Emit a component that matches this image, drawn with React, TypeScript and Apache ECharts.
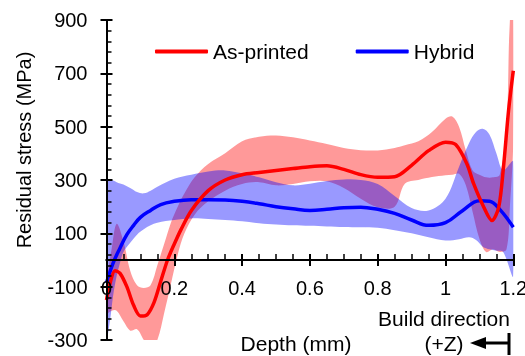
import React, { useEffect, useRef } from "react";
import * as echarts from "echarts";

const xTicks = [0, 0.2, 0.4, 0.6, 0.8, 1, 1.2];
const yTicks = [-300, -100, 100, 300, 500, 700, 900];

const printedX = [0, 0.01, 0.025, 0.04, 0.06, 0.08, 0.1, 0.12, 0.14, 0.16, 0.18, 0.2, 0.22, 0.25, 0.3, 0.35, 0.4, 0.45, 0.5, 0.55, 0.6, 0.65, 0.7, 0.75, 0.8, 0.85, 0.9, 0.95, 1.0, 1.03, 1.063, 1.083, 1.113, 1.137, 1.157, 1.171, 1.186, 1.2];
const printedY = [-150, -90, -40, -50, -100, -170, -210, -205, -160, -80, 0, 60, 115, 185, 260, 300, 320, 328, 336, 343, 350, 353, 340, 320, 310, 312, 355, 410, 442, 433, 361, 286, 198, 148, 198, 348, 560, 710];

const printedBandX = [0, 0.015, 0.03, 0.05, 0.07, 0.09, 0.11, 0.13, 0.15, 0.17, 0.19, 0.21, 0.23, 0.26, 0.3, 0.35, 0.4, 0.45, 0.5, 0.55, 0.6, 0.65, 0.7, 0.75, 0.8, 0.85, 0.88, 0.92, 0.96, 1.0, 1.02, 1.04, 1.06, 1.08, 1.1, 1.12, 1.14, 1.16, 1.18, 1.19, 1.2];
const printedUpper = [-90, 40, 136, 70, -40, -95, -105, -95, -20, 60, 140, 200, 250, 310, 360, 400, 445, 462, 467, 460, 448, 435, 420, 412, 411, 420, 430, 445, 480, 530, 538, 500, 411, 336, 320, 310, 310, 320, 500, 900, 950];
const printedLower = [-200, -190, -190, -230, -265, -260, -300, -330, -300, -200, -90, 20, 100, 170, 220, 260, 285, 292, 280, 285, 295, 295, 270, 230, 198, 200, 286, 300, 311, 318, 320, 323, 280, 180, 80, 30, 40, 30, 40, 200, 450];

const hybridX = [0, 0.02, 0.04, 0.06, 0.08, 0.1, 0.13, 0.16, 0.2, 0.25, 0.3, 0.35, 0.4, 0.45, 0.5, 0.55, 0.6, 0.65, 0.7, 0.75, 0.8, 0.85, 0.9, 0.95, 1.0, 1.05, 1.1, 1.13, 1.16, 1.2];
const hybridY = [-85, -10, 45, 95, 130, 160, 186, 208, 220, 226, 226, 225, 220, 211, 200, 192, 186, 190, 196, 198, 190, 175, 150, 130, 140, 185, 222, 220, 190, 123];

const hybridBandX = [0, 0.01, 0.02, 0.03, 0.04, 0.05, 0.07, 0.09, 0.11, 0.13, 0.15, 0.2, 0.25, 0.3, 0.35, 0.4, 0.45, 0.5, 0.55, 0.6, 0.65, 0.7, 0.75, 0.8, 0.85, 0.9, 0.95, 1.0, 1.04, 1.07, 1.09, 1.11, 1.13, 1.15, 1.17, 1.2];
const hybridUpper = [300, 300, 298, 292, 287, 283, 270, 255, 250, 260, 275, 305, 320, 332, 336, 325, 310, 292, 280, 286, 296, 302, 300, 285, 240, 195, 186, 230, 350, 440, 480, 492, 470, 400, 336, 370];
const hybridLower = [-300, -230, -130, -60, -10, 30, 65, 95, 115, 130, 140, 150, 156, 154, 150, 145, 138, 133, 130, 128, 126, 124, 123, 121, 112, 100, 85, 73, 78, 85, 75, 50, 40, 35, 30, -60];

const FONT = "'Liberation Sans', Arial, Helvetica, sans-serif";

const Y_MIN = -300;
const Y_MAX = 900;
const GRID_TOP = 20;
const GRID_BOTTOM = 16;
const CHART_H = 356;
// distance from grid bottom to value 0 (x-axis crosses at y = 0)
const PLOT_H = CHART_H - GRID_TOP - GRID_BOTTOM;
const ZERO_OFFSET = -((0 - Y_MIN) / (Y_MAX - Y_MIN)) * PLOT_H;

function pairs(xs: number[], ys: number[]) {
  return xs.map((x, i) => [x, ys[i]]);
}

function bandSeries(name: string, xs: number[], lo: number[], hi: number[], color: string) {
  return {
    name,
    type: "custom",
    silent: true,
    z: 1,
    data: xs.map((x, i) => [x, lo[i], hi[i]]),
    encode: { x: 0, y: [1, 2] },
    renderItem: (params: any, api: any) => {
      if (params.dataIndex !== 0) return null;
      const upperPts = xs.map((x, i) => api.coord([x, hi[i]]));
      const lowerPts = xs.map((x, i) => api.coord([x, lo[i]])).reverse();
      const cs = params.coordSys;
      return {
        type: "group",
        clipPath: { type: "rect", shape: { x: cs.x, y: cs.y, width: cs.width, height: cs.height } },
        children: [
          {
            type: "polygon",
            shape: { points: upperPts.concat(lowerPts), smooth: 0.35 },
            style: { fill: color, stroke: "none" },
          },
        ],
      };
    },
  };
}

export default function App() {
  const ref = useRef<HTMLDivElement>(null);
  useEffect(() => {
    if (!ref.current) return;
    const chart = echarts.init(ref.current, null, { renderer: "svg" });
    const axisLabel = { fontFamily: FONT, fontSize: 20, color: "#000" };
    chart.setOption({
      animation: false,
      textStyle: { fontFamily: FONT },
      grid: { left: 106.5, right: 11.7, top: GRID_TOP, bottom: GRID_BOTTOM, containLabel: false, outerBoundsMode: "none" },
      legend: {
        data: ["As-printed", "Hybrid"],
        left: 150,
        top: 36,
        icon: "roundRect",
        itemWidth: 53,
        itemHeight: 4,
        itemGap: 47,
        textStyle: { fontFamily: FONT, fontSize: 21, color: "#000" },
      },
      xAxis: [
        {
          type: "value",
          position: "bottom",
          offset: ZERO_OFFSET,
          min: 0,
          max: 1.2,
          interval: 0.2,
          z: 10,
          axisLine: { onZero: false, lineStyle: { color: "#000", width: 2 } },
          axisTick: { show: true, inside: true, length: 6, lineStyle: { color: "#000", width: 2 } },
          minorTick: { show: true, splitNumber: 4, length: 6, lineStyle: { color: "#000", width: 1.5 } },
          axisLabel: {
            ...axisLabel,
            margin: 18,
            formatter: (v: number) => {
              const t = xTicks.find((x) => Math.abs(x - v) < 1e-6);
              return t === undefined ? "" : String(t);
            },
          },
          splitLine: { show: false },
        },
        {
          type: "value",
          position: "bottom",
          offset: ZERO_OFFSET,
          min: 0,
          max: 1.2,
          interval: 0.2,
          z: 10,
          axisLine: { onZero: false, lineStyle: { color: "#000", width: 2 } },
          axisTick: { show: true, inside: false, length: 6, lineStyle: { color: "#000", width: 2 } },
          axisLabel: { show: false },
          splitLine: { show: false },
        },
      ],
      yAxis: [
        {
          type: "value",
          position: "left",
          min: Y_MIN,
          max: Y_MAX,
          interval: 200,
          z: 10,
          axisLine: { show: true, onZero: false, lineStyle: { color: "#000", width: 2 } },
          axisTick: { show: true, inside: true, length: 6, lineStyle: { color: "#000", width: 2 } },
          minorTick: { show: true, splitNumber: 5, length: 5, lineStyle: { color: "#000", width: 1.5 } },
          axisLabel: {
            ...axisLabel,
            margin: 19,
            formatter: (v: number) => (yTicks.includes(v) ? String(v) : ""),
          },
          splitLine: { show: false },
        },
        {
          type: "value",
          position: "left",
          min: Y_MIN,
          max: Y_MAX,
          interval: 200,
          z: 10,
          axisLine: { show: true, onZero: false, lineStyle: { color: "#000", width: 2 } },
          axisTick: { show: true, inside: false, length: 6, lineStyle: { color: "#000", width: 2 } },
          axisLabel: { show: false },
          splitLine: { show: false },
        },
      ],
      series: [
        bandSeries("printedBand", printedBandX, printedLower, printedUpper, "rgba(255,0,0,0.4)"),
        bandSeries("hybridBand", hybridBandX, hybridLower, hybridUpper, "rgba(0,0,255,0.4)"),
        {
          name: "Hybrid",
          type: "line",
          data: pairs(hybridX, hybridY),
          smooth: 0.4,
          symbol: "none",
          color: "#0000ff",
          lineStyle: { width: 3.5, color: "#0000ff" },
          z: 3,
        },
        {
          name: "As-printed",
          type: "line",
          data: pairs(printedX, printedY),
          smooth: 0.3,
          symbol: "none",
          color: "#ff0000",
          lineStyle: { width: 3.5, color: "#ff0000" },
          z: 4,
        },
      ],
      graphic: [
        {
          type: "text",
          x: 24,
          y: 150,
          rotation: Math.PI / 2,
          style: { text: "Residual stress (MPa)", fontSize: 20, fontFamily: FONT, fill: "#000", align: "center", verticalAlign: "middle" },
        },
        {
          type: "text",
          x: 296,
          y: 343,
          style: { text: "Depth (mm)", fontSize: 21, fontFamily: FONT, fill: "#000", align: "center", verticalAlign: "middle" },
        },
        {
          type: "text",
          x: 444,
          y: 318,
          style: { text: "Build direction", fontSize: 21, fontFamily: FONT, fill: "#000", align: "center", verticalAlign: "middle" },
        },
        {
          type: "text",
          x: 444,
          y: 343,
          style: { text: "(+Z)", fontSize: 21, fontFamily: FONT, fill: "#000", align: "center", verticalAlign: "middle" },
        },
        {
          type: "polygon",
          shape: { points: [[470, 343], [486, 337], [486, 349]] },
          style: { fill: "#000" },
        },
        {
          type: "rect",
          shape: { x: 484, y: 341.5, width: 26, height: 3 },
          style: { fill: "#000" },
        },
        {
          type: "rect",
          shape: { x: 507.5, y: 333, width: 3, height: 22 },
          style: { fill: "#000" },
        },
      ],
    });
    return () => chart.dispose();
  }, []);
  return <div ref={ref} style={{ position: "fixed", left: 0, top: 0, width: 525, height: 356 }} />;
}
